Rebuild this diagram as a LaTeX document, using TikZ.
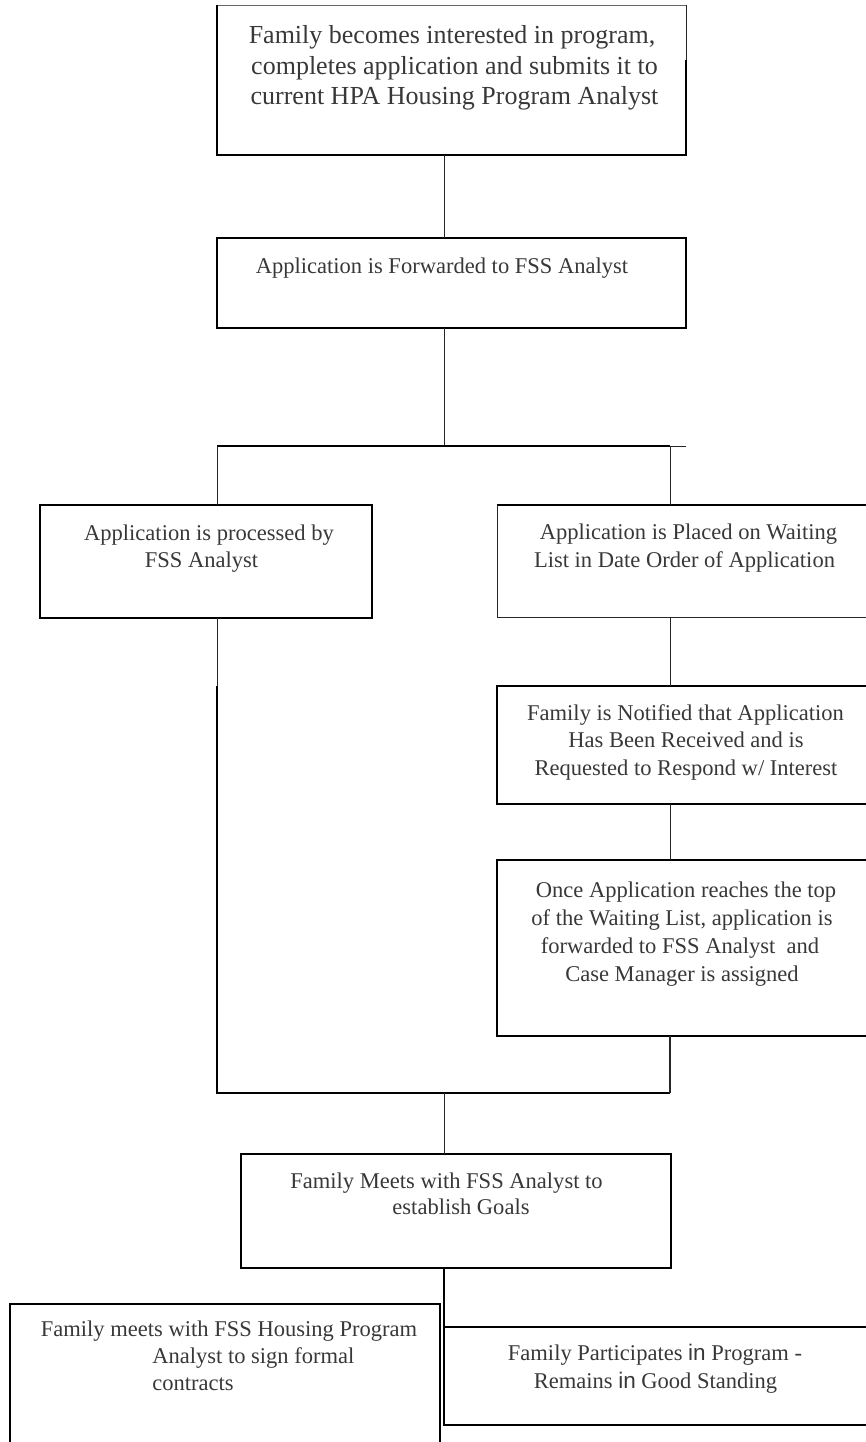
\documentclass[tikz,border=0pt]{standalone}
\usepackage{fontspec}
\setmainfont{Liberation Serif}
\newfontfamily\sansin{Liberation Sans}
\begin{document}
\begin{tikzpicture}[x=0.75pt,y=-0.75pt,
  boxthick/.style={draw=black, line width=1.5pt, rectangle, inner sep=0pt, outer sep=0pt, anchor=north west},
  boxplain/.style={draw=none, rectangle, inner sep=0pt, outer sep=0pt, anchor=north west},
  thinln/.style={draw=black!85, line width=0.75pt},
  thickln/.style={draw=black, line width=1.5pt},
  txt/.style={anchor=base, inner sep=0pt, text=black!78, font=\fontsize{16.9}{20}\selectfont},
  txtw/.style={txt, anchor=base west},
  bigtxt/.style={txt, font=\fontsize{19.5}{23}\selectfont}]
\useasboundingbox (0,0) rectangle (866,1442);
\clip (0,0) rectangle (866,1442);
% boxes (size in px * 0.75pt)
\node[boxplain, minimum width=351.75pt, minimum height=112.5pt] (b1) at (217,5) {};
\node[boxthick, minimum width=351.75pt, minimum height=67.5pt] (b2) at (217,238) {};
\node[boxthick, minimum width=249pt, minimum height=84.75pt] (bL) at (40,505) {};
\node[boxplain, minimum width=300pt, minimum height=84pt] (bR) at (497,505) {};
\node[boxthick, minimum width=300pt, minimum height=88.5pt] (bN) at (497,686) {};
\node[boxthick, minimum width=300pt, minimum height=132pt] (bO) at (497,860) {};
\node[boxthick, minimum width=322.5pt, minimum height=85.5pt] (bM) at (241,1154) {};
\node[boxthick, minimum width=322.5pt, minimum height=120pt] (bF) at (10,1304) {};
\node[boxthick, minimum width=330pt, minimum height=73.5pt] (bP) at (444,1327) {};
% individual edges of b1 and bR
\draw[thinln, draw=black!60] (b1.north west) -- (b1.north east);
\draw[thickln] (b1.north west) -- (b1.south west) -- (b1.south east) -- (217+469,60) coordinate (b1r);
\draw[thinln] (b1r) -- (b1.north east);
\draw[thickln] (bR.north west) -- (bR.north east);
\draw[thinln] (bR.north west) -- (bR.south west) -- (bR.south east);
% helper coordinates
\coordinate (hy) at (444,446);
\coordinate (rx) at (670,446);
\coordinate (lx) at (217,446);
\coordinate (lb) at (217,686);
\coordinate (by) at (444,1093);
\coordinate (ext) at (686,446);
% connectors
\draw[thinln] (b1.south -| hy) -- (b2.north -| hy);
\draw[thinln] (b2.south -| hy) -- (hy);
\draw[thickln] (lx) -- (rx);
\draw[thinln] (rx) -- (ext);
\draw[thinln] (lx) -- (lx |- bL.north);
\draw[thinln] (rx) -- (rx |- bR.north);
\draw[thinln] (rx |- bR.south) -- (rx |- bN.north);
\draw[thinln] (rx |- bN.south) -- (rx |- bO.north);
\draw[thinln] (lx |- bL.south) -- (lb);
\draw[thickln] (lb) -- (lb |- by) -- (rx |- by);
\draw[thinln, line width=1pt] (rx |- bO.south) -- (rx |- by);
\draw[thinln] (by) -- (bM.north -| by);
\draw[thickln] (bM.south -| by) -- (bP.north west);
% texts
\node[bigtxt] (t1a) at (452,43) {Family becomes interested in program,};
\node[bigtxt] (t1b) at (454.5,74) {completes application and submits it to};
\node[bigtxt] (t1c) at (454.5,104) {current HPA Housing Program Analyst};
\node[txt] (t2a) at (442,273) {Application is Forwarded to FSS Analyst};
\node[txt] (tLa) at (209,540) {Application is processed by};
\node[txt] (tLb) at (201.5,567) {FSS Analyst};
\node[txt] (tRa) at (688.5,539) {Application is Placed on Waiting};
\node[txt] (tRb) at (684.5,567) {List in Date Order of Application};
\node[txt] (tNa) at (685.5,720) {Family is Notified that Application};
\node[txt] (tNb) at (686,747) {Has Been Received and is};
\node[txt] (tNc) at (686,775) {Requested to Respond w/ Interest};
\node[txt] (tOa) at (686,897) {Once Application reaches the top};
\node[txt] (tOb) at (682,925) {of the Waiting List, application is};
\node[txt] (tOc) at (680,953) {forwarded to FSS Analyst\ \ and};
\node[txt] (tOd) at (682,981) {Case Manager is assigned};
\node[txt] (tMa) at (446.5,1188) {Family Meets with FSS Analyst to};
\node[txt] (tMb) at (461,1214) {establish Goals};
\node[txt] (tFa) at (229,1336) {Family meets with FSS Housing Program};
\node[txtw] (tFb) at (152,1363) {Analyst to sign formal};
\node[txtw] (tFc) at (152,1390) {contracts};
\node[txt] (tPa) at (655,1360) {Family Participates {\sansin in} Program -};
\node[txt] (tPb) at (655.5,1388) {Remains {\sansin in} Good Standing};
\end{tikzpicture}
\end{document}
